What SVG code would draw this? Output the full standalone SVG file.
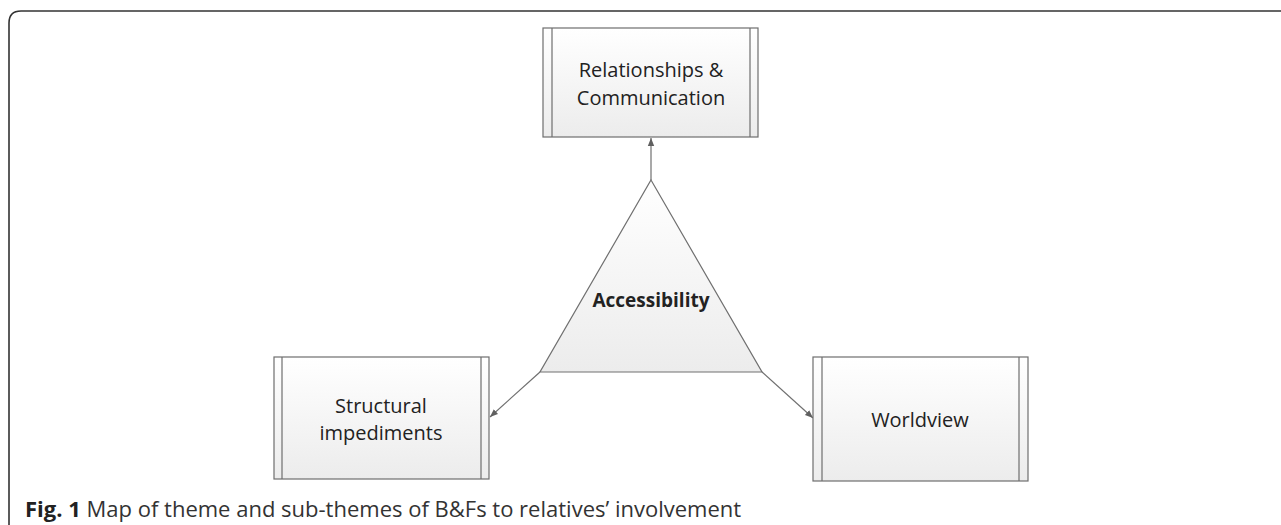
<svg xmlns="http://www.w3.org/2000/svg" width="1281" height="525" viewBox="0 0 1281 525">
<style>
.box{fill:url(#g);stroke:#6e6e6e;stroke-width:1.2}
.bar{stroke:#6e6e6e;stroke-width:1.2}
.lbl{font-family:"Open Sans","Liberation Sans",sans-serif;font-size:20px;fill:#222;text-anchor:middle}
.conn{stroke:#707070;stroke-width:1.2;fill:none;marker-end:url(#ah)}
</style>
<defs>
<linearGradient id="g" x1="0" y1="0" x2="0" y2="1">
<stop offset="0" stop-color="#ffffff"/>
<stop offset="1" stop-color="#ececec"/>
</linearGradient>
<marker id="ah" viewBox="0 0 10 10" refX="10" refY="5" markerWidth="8" markerHeight="8" markerUnits="userSpaceOnUse" orient="auto">
<path d="M0,1 L10,5 L0,9 Z" fill="#606060"/>
</marker>
</defs>
<rect width="1281" height="525" fill="#ffffff"/>
<path d="M9,525 L9,23 Q9,11 21,11 L1281,11" fill="none" stroke="#333" stroke-width="1.6"/>
<g id="connectors">
<line class="conn" x1="651" y1="180" x2="651" y2="138"/>
<line class="conn" x1="540" y1="372" x2="490" y2="417"/>
<line class="conn" x1="762" y1="372" x2="813" y2="418"/>
</g>
<g id="node-relationships">
<rect class="box" x="543" y="28" width="215" height="109"/>
<line class="bar" x1="552" y1="28" x2="552" y2="137"/>
<line class="bar" x1="750" y1="28" x2="750" y2="137"/>
<text class="lbl" x="651" y="77">Relationships &amp;</text>
<text class="lbl" x="651" y="105">Communication</text>
</g>
<g id="node-accessibility">
<polygon points="651,180 762,372 540,372" fill="url(#g)" stroke="#707070" stroke-width="1.2"/>
<text x="651" y="307" font-family="'Open Sans','Liberation Sans',sans-serif" font-size="19" font-weight="bold" fill="#222" text-anchor="middle">Accessibility</text>
</g>
<g id="node-structural">
<rect class="box" x="274" y="357" width="215" height="122"/>
<line class="bar" x1="282" y1="357" x2="282" y2="479"/>
<line class="bar" x1="481" y1="357" x2="481" y2="479"/>
<text class="lbl" x="381" y="413">Structural</text>
<text class="lbl" x="381" y="440">impediments</text>
</g>
<g id="node-worldview">
<rect class="box" x="813" y="357" width="215" height="124"/>
<line class="bar" x1="822" y1="357" x2="822" y2="481"/>
<line class="bar" x1="1019" y1="357" x2="1019" y2="481"/>
<text class="lbl" x="920" y="427">Worldview</text>
</g>
<text x="25" y="517" font-family="'Open Sans','Liberation Sans',sans-serif" font-size="22" fill="#333"><tspan font-weight="bold" fill="#222">Fig. 1</tspan> Map of theme and sub-themes of B&amp;Fs to relatives’ involvement</text>
</svg>
